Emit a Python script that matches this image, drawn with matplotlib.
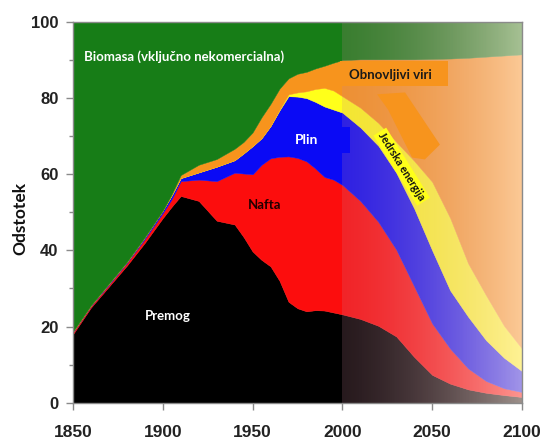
import numpy as np
import matplotlib
matplotlib.use("Agg")
import matplotlib.pyplot as plt
from matplotlib.patches import Rectangle, Polygon

# energy mix shares (percent of total)
years = [1850, 1860, 1870, 1880, 1890, 1900, 1905, 1910, 1920, 1930, 1940, 1945,
         1950, 1955, 1960, 1965, 1970, 1975, 1980, 1985, 1990, 1995, 2000, 2010,
         2020, 2030, 2040, 2050, 2060, 2070, 2080, 2090, 2100]
premog = [18.0, 25.0, 30.5, 36.0, 42.0, 48.5, 51.5, 54.3, 53.0, 47.8, 46.8, 43.5,
          39.7, 37.5, 35.8, 32.0, 26.5, 24.8, 24.0, 24.3, 24.2, 23.7, 23.2, 22.0,
          20.2, 17.4, 12.0, 7.3, 5.0, 3.5, 2.6, 2.0, 1.5]
nafta = [0.5, 0.4, 0.5, 0.7, 1.0, 1.3, 2.0, 3.9, 5.6, 10.4, 13.6, 16.7,
         20.3, 25.0, 28.4, 32.6, 38.2, 39.5, 39.4, 37.2, 35.1, 34.9, 34.0, 31.0,
         27.3, 22.8, 18.5, 13.5, 9.2, 5.5, 3.1, 1.8, 1.3]
plin = [0.2, 0.2, 0.3, 0.3, 0.5, 0.7, 1.0, 0.8, 1.9, 3.8, 3.3, 5.3,
        7.4, 7.0, 8.5, 12.2, 15.8, 16.1, 16.6, 17.5, 18.5, 18.4, 19.0, 19.3,
        20.0, 20.2, 20.5, 19.2, 15.3, 13.6, 10.7, 8.0, 5.5]
jedrska = [0, 0, 0, 0, 0, 0, 0, 0, 0, 0, 0, 0,
           0, 0, 0, 0.2, 0.5, 1.1, 1.8, 3.4, 4.9, 5.0, 4.3, 5.2,
           6.0, 8.1, 12.5, 18.0, 19.0, 14.0, 11.8, 8.4, 5.9]
obnovljivi = [0, 0, 0, 0, 0, 0, 0.3, 0.8, 2.0, 2.0, 3.0, 3.0,
              3.6, 5.5, 5.8, 5.5, 4.2, 4.9, 5.1, 5.4, 5.8, 7.3, 9.5, 12.7,
              16.7, 21.7, 26.7, 32.3, 41.9, 54.0, 62.7, 71.0, 77.3]
biomasa = [81.3, 74.4, 68.7, 63.0, 56.5, 49.5, 45.2, 40.2, 37.5, 36.0, 33.3, 31.5,
           29.0, 25.0, 21.5, 17.5, 14.8, 13.6, 13.1, 12.2, 11.5, 10.7, 10.0, 9.8,
           9.8, 9.8, 9.8, 9.7, 9.6, 9.4, 9.1, 8.8, 8.5]

c_premog = '#000000'
c_nafta = '#fc0d0d'
c_plin = '#0a0af5'
c_jedrska = '#ffff1a'
c_obnov = '#f7941d'
c_bio = '#177d17'

fig = plt.figure(figsize=(5.42, 4.44), dpi=100)
ax = fig.add_axes([73 / 542, 1 - 402.7 / 444, 449 / 542, 380.7 / 444])

ax.stackplot(years, premog, nafta, plin, jedrska, obnovljivi, biomasa,
             colors=[c_premog, c_nafta, c_plin, c_jedrska, c_obnov, c_bio],
             edgecolor='face', linewidth=0.3, zorder=1)

# faded forecast part (2000-2100), pinkish grey -> near white
t = np.linspace(0, 1, 256)
grad = np.zeros((1, 256, 4))
grad[0, :, 0] = (200 + 55 * t) / 255
grad[0, :, 1] = (130 + 105 * t) / 255
grad[0, :, 2] = (150 + 75 * t) / 255
grad[0, :, 3] = 0.2 + 0.42 * t ** 1.3
ax.imshow(grad, extent=[2000, 2100, 0, 100], aspect='auto', zorder=2,
          interpolation='bilinear')

# label patches pasted over the picture
ax.add_patch(Rectangle((1970.8, 65.7), 33.4, 6.6, facecolor=c_plin,
                       edgecolor='none', zorder=3))
ax.add_patch(Rectangle((1998.7, 83.2), 60.1, 6.6, facecolor=c_obnov,
                       edgecolor='none', zorder=3))
ax.add_patch(Polygon([(2019.3, 81.0), (2034.9, 81.5), (2054.3, 67.8),
                      (2045.9, 63.9), (2038.8, 64.4), (2025.4, 77.0)],
                     closed=True, facecolor=c_obnov, edgecolor='none', zorder=3))

lab = dict(family=['Lato', 'DejaVu Sans'], fontweight='bold', zorder=5)
ax.text(1856.2, 91, 'Biomasa (vključno nekomercialna)', color='white',
        fontsize=9.5, ha='left', va='center', **lab)
ax.text(2026.5, 86.0, 'Obnovljivi viri', color='#1a1a1a', fontsize=9.5,
        ha='center', va='center', **lab)
ax.text(1980, 69.0, 'Plin', color='white', fontsize=10, ha='center',
        va='center', **lab)
ax.text(1956.9, 52.0, 'Nafta', color='#200000', fontsize=9.5, ha='center',
        va='center', **lab)
ax.text(1903, 22.8, 'Premog', color='white', fontsize=9.5, ha='center',
        va='center', **lab)
ax.text(2033, 62.0, 'Jedrska energija', color='#111111', fontsize=7.8,
        ha='center', va='center', rotation=-58, rotation_mode='anchor',
        bbox=dict(facecolor=c_jedrska, edgecolor='none', pad=1.5), **lab)

ax.set_xlim(1850, 2100)
ax.set_ylim(0, 100)
ax.set_xticks([1850, 1900, 1950, 2000, 2050, 2100])
ax.set_yticks([0, 20, 40, 60, 80, 100])
ax.set_yticks([10, 30, 50, 70, 90], minor=True)

for s in ax.spines.values():
    s.set_color('#8a8a8a')
    s.set_linewidth(1)
ax.tick_params(axis='both', which='major', colors='#8a8a8a', length=5, width=1,
               labelcolor='#222222')
ax.tick_params(axis='y', which='minor', colors='#8a8a8a', length=3, width=1)
ax.tick_params(axis='x', pad=11, labelsize=12.5)
ax.tick_params(axis='y', pad=5.5, labelsize=12)
for lbl in ax.get_xticklabels() + ax.get_yticklabels():
    lbl.set_family(['Liberation Sans', 'DejaVu Sans'])
    lbl.set_fontweight('bold')

ax.set_ylabel('Odstotek', fontsize=12.5, fontweight='bold',
              family=['Lato', 'DejaVu Sans'], color='#111111')
ax.yaxis.set_label_coords(-0.100, 0.483)

fig.savefig('out.png', dpi=100)
